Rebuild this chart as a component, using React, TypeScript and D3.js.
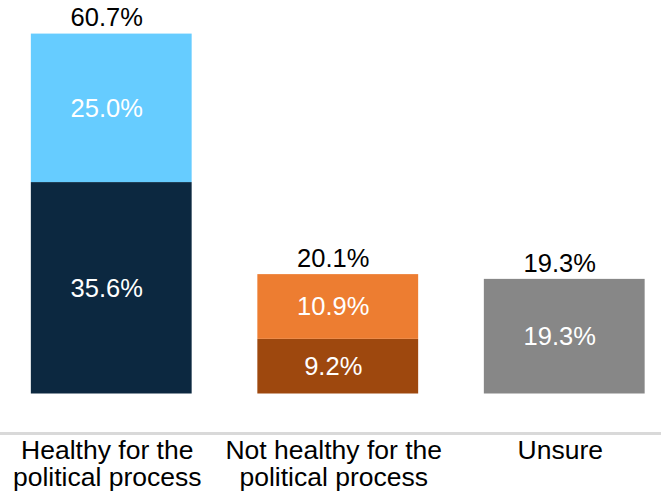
import React from "react";
import * as d3 from "d3";

const categories = ["Healthy for the|political process", "Not healthy for the|political process", "Unsure"];
const lowerValues = [35.6, 9.2, 19.3];
const upperValues = [25.0, 10.9, 0];
const totals = [60.7, 20.1, 19.3];
const lowerColors = ["#0C2840", "#9E480E", "#878787"];
const upperColors = ["#66CCFF", "#ED7D31", "#878787"];

const W = 661;
const H = 493;
const FONT = "'Liberation Sans', Arial, sans-serif";

export default function App() {
  const x = d3.scaleBand<string>().domain(categories).range([-2, 677.5]).paddingInner(0.29).paddingOuter(0.145);
  const y = d3.scaleLinear().domain([0, 60.7]).range([393.5, 33]);
  const fmt = (v: number) => v.toFixed(1) + "%";
  const dxText = -4.5;

  return (
    <svg width={W} height={H} style={{ position: "absolute", left: 0, top: 0 }} fontFamily={FONT}>
      <rect width={W} height={H} fill="#fff" />
      {categories.map((c, i) => {
        const x0 = x(c)!;
        const bw = x.bandwidth();
        const cx = x0 + bw / 2 + dxText;
        const lo = lowerValues[i];
        const up = upperValues[i];
        const yLoTop = y(lo);
        const yUpTop = y(lo + up);
        const lines = c.split("|");
        return (
          <g key={c}>
            <rect x={x0} y={yLoTop} width={bw} height={y(0) - yLoTop} fill={lowerColors[i]} />
            {up > 0 && <rect x={x0} y={yUpTop} width={bw} height={yLoTop - yUpTop} fill={upperColors[i]} />}
            <text x={cx} y={(y(0) + yLoTop) / 2} dy="0.35em" textAnchor="middle" fill="#fff" fontSize={25.5}>
              {fmt(lo)}
            </text>
            {up > 0 && (
              <text x={cx} y={(yLoTop + yUpTop) / 2} dy="0.35em" textAnchor="middle" fill="#fff" fontSize={25.5}>
                {fmt(up)}
              </text>
            )}
            <text x={cx} y={y(totals[i]) - 7} textAnchor="middle" fill="#000" fontSize={25.5}>
              {fmt(totals[i])}
            </text>
            {lines.map((l, j) => (
              <text key={j} x={cx + 0.5} y={459 + j * 26.5} textAnchor="middle" fill="#000" fontSize={26.5}>
                {l}
              </text>
            ))}
          </g>
        );
      })}
      <line x1={0} x2={W} y1={433.5} y2={433.5} stroke="#D9D9D9" strokeWidth={3} />
    </svg>
  );
}
